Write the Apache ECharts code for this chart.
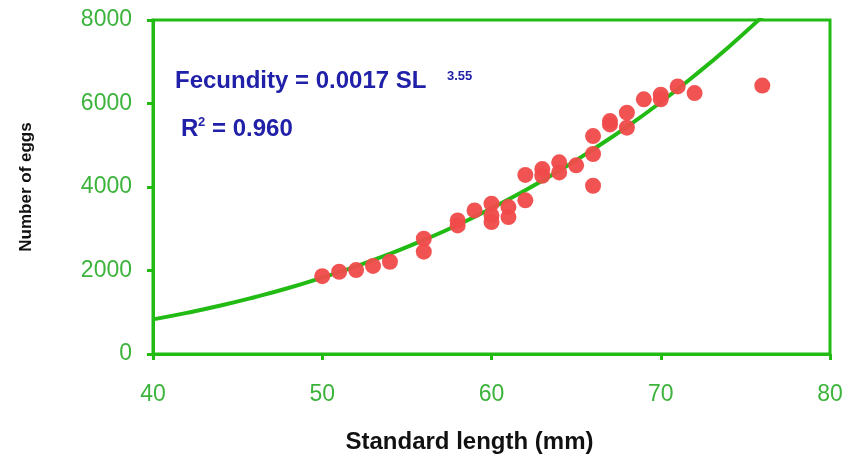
<!DOCTYPE html>
<html>
<head>
<meta charset="utf-8">
<script src="https://cdn.jsdelivr.net/npm/echarts@6/dist/echarts.min.js"></script>
<style>
  html, body { margin: 0; padding: 0; background: #fff; }
  #chart { width: 849px; height: 459px; }
</style>
</head>
<body>
<div id="chart"></div>
<script>
// observed fish: standard length (mm) and egg counts
var lengths = [50, 51, 52, 53, 54, 56, 56, 58, 58, 59, 60, 60, 60, 61, 61, 62, 62,
  63, 63, 64, 64, 65, 66, 66, 66, 67, 67, 68, 68, 69, 70, 70, 71, 72, 76];
var eggs = [1865, 1970, 2010, 2110, 2210, 2760, 2450, 3200, 3080, 3440, 3600, 3320, 3160, 3520, 3280, 4290, 3680,
  4430, 4270, 4590, 4350, 4520, 5220, 4790, 4030, 5580, 5500, 5780, 5420, 6100, 6210, 6100, 6410, 6250, 6430];

// fitted curve
var curveX = [40, 42, 44, 46, 48, 50, 52, 54, 56, 58, 60, 62, 64, 66, 68, 70, 72, 74, 76];
var curveY = [830, 985, 1160, 1360, 1580, 1830, 2100, 2400, 2730, 3090, 3490, 3920, 4390, 4900, 5440, 6030, 6670, 7350, 8080];

var xTicks = [40, 50, 60, 70, 80];
var yTicks = [0, 2000, 4000, 6000, 8000];

var green = "#22bb14";
var labelGreen = "#3cb43c";
var blue = "#2020a8";

var chart = echarts.init(document.getElementById("chart"));

chart.setOption({
  backgroundColor: "#fff",
  animation: false,
  grid: {
    left: 153,
    right: 19,
    top: 20,
    bottom: 103,
    show: true,
    borderColor: green,
    borderWidth: 3
  },
  xAxis: {
    type: "value",
    min: xTicks[0],
    max: xTicks[xTicks.length - 1],
    interval: 10,
    name: "Standard length (mm)",
    nameLocation: "middle",
    nameGap: 76,
    nameTextStyle: {
      color: "#111", fontSize: 24, fontWeight: "bold", fontFamily: "Liberation Sans",
      padding: [0, 44, 0, 0]
    },
    axisLine: { lineStyle: { color: green, width: 3 } },
    axisTick: { inside: false, length: 6, lineStyle: { color: green, width: 3 } },
    axisLabel: { color: labelGreen, fontSize: 23, margin: 29, fontFamily: "Liberation Sans" },
    splitLine: { show: false }
  },
  yAxis: {
    type: "value",
    min: yTicks[0],
    max: yTicks[yTicks.length - 1],
    interval: 2000,
    name: "Number of eggs",
    nameLocation: "middle",
    nameGap: 118,
    nameTextStyle: { color: "#111", fontSize: 17, fontWeight: "bold", fontFamily: "Liberation Sans" },
    axisLine: { show: true, lineStyle: { color: green, width: 3 } },
    axisTick: { show: true, length: 6, lineStyle: { color: green, width: 3 } },
    axisLabel: {
      color: labelGreen, fontSize: 23, margin: 21, fontFamily: "Liberation Sans",
      formatter: function (v) { return String(v); }
    },
    splitLine: { show: false }
  },
  graphic: [
    {
      type: "text",
      left: 175,
      top: 69,
      style: { text: "Fecundity = 0.0017 SL", fill: blue, font: "bold 24px 'Liberation Sans'" }
    },
    {
      type: "text",
      left: 447,
      top: 70,
      style: { text: "3.55", fill: blue, font: "bold 13px 'Liberation Sans'" }
    },
    {
      type: "text",
      left: 181,
      top: 117,
      style: { text: "R", fill: blue, font: "bold 24px 'Liberation Sans'" }
    },
    {
      type: "text",
      left: 198,
      top: 116,
      style: { text: "2", fill: blue, font: "bold 13px 'Liberation Sans'" }
    },
    {
      type: "text",
      left: 212,
      top: 117,
      style: { text: "= 0.960", fill: blue, font: "bold 24px 'Liberation Sans'" }
    }
  ],
  series: [
    {
      type: "line",
      data: curveX.map(function (x, i) { return [x, curveY[i]]; }),
      smooth: true,
      showSymbol: false,
      clip: true,
      lineStyle: { color: green, width: 4 },
      z: 2
    },
    {
      type: "scatter",
      data: lengths.map(function (x, i) { return [x, eggs[i]]; }),
      symbol: "circle",
      symbolSize: 16,
      itemStyle: { color: "#f04a4a", opacity: 0.95 },
      z: 3
    }
  ]
});
</script>
</body>
</html>
